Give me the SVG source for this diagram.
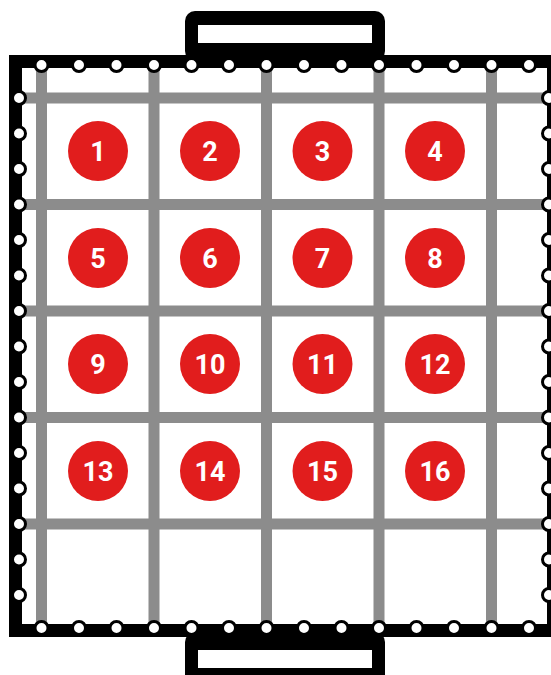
<svg xmlns="http://www.w3.org/2000/svg" width="551" height="675" viewBox="0 0 551 675">
<style>
.g{stroke:#8c8c8c;stroke-width:11;fill:none}
.h{fill:#fff;stroke:#000;stroke-width:3}
.n{fill:#e11d1d}
.t{fill:#fff;font-family:Roboto,"Liberation Sans",sans-serif;font-weight:bold;font-size:27px;text-anchor:middle}
</style>
<defs>
<circle id="hole" r="6.5" class="h"/>
</defs>
<rect width="551" height="675" fill="#fff"/>
<g id="grid">
<path class="g" d="M41.5 60V630M154 60V630M266.5 60V630M379 60V630M491.5 60V630M15 98H551M15 204.5H551M15 311H551M15 417.5H551M15 524H551"/>
</g>
<g id="frame">
<rect x="15.5" y="61.5" width="538" height="569" fill="none" stroke="#000" stroke-width="13"/>
</g>
<g id="handle-top">
<rect x="185" y="11" width="200" height="50" rx="10" fill="#000"/>
<rect x="198" y="25" width="174" height="18" fill="#fff"/>
</g>
<g id="handle-bottom">
<rect x="185" y="632" width="200" height="55" rx="10" fill="#000"/>
<rect x="198" y="650" width="174" height="18" fill="#fff"/>
</g>
<g id="holes">
<use href="#hole" x="41.5" y="65"/><use href="#hole" x="79" y="65"/><use href="#hole" x="116.5" y="65"/><use href="#hole" x="154" y="65"/><use href="#hole" x="191.5" y="65"/><use href="#hole" x="229" y="65"/><use href="#hole" x="266.5" y="65"/><use href="#hole" x="304" y="65"/><use href="#hole" x="341.5" y="65"/><use href="#hole" x="379" y="65"/><use href="#hole" x="416.5" y="65"/><use href="#hole" x="454" y="65"/><use href="#hole" x="491.5" y="65"/><use href="#hole" x="529" y="65"/>
<use href="#hole" x="41.5" y="628"/><use href="#hole" x="79" y="628"/><use href="#hole" x="116.5" y="628"/><use href="#hole" x="154" y="628"/><use href="#hole" x="191.5" y="628"/><use href="#hole" x="229" y="628"/><use href="#hole" x="266.5" y="628"/><use href="#hole" x="304" y="628"/><use href="#hole" x="341.5" y="628"/><use href="#hole" x="379" y="628"/><use href="#hole" x="416.5" y="628"/><use href="#hole" x="454" y="628"/><use href="#hole" x="491.5" y="628"/><use href="#hole" x="529" y="628"/>
<use href="#hole" x="19" y="98"/><use href="#hole" x="19" y="133.5"/><use href="#hole" x="19" y="169"/><use href="#hole" x="19" y="204.5"/><use href="#hole" x="19" y="240"/><use href="#hole" x="19" y="275.5"/><use href="#hole" x="19" y="311"/><use href="#hole" x="19" y="346.5"/><use href="#hole" x="19" y="382"/><use href="#hole" x="19" y="417.5"/><use href="#hole" x="19" y="453"/><use href="#hole" x="19" y="488.5"/><use href="#hole" x="19" y="524"/><use href="#hole" x="19" y="559.5"/><use href="#hole" x="19" y="595"/>
<use href="#hole" x="549" y="98"/><use href="#hole" x="549" y="133.5"/><use href="#hole" x="549" y="169"/><use href="#hole" x="549" y="204.5"/><use href="#hole" x="549" y="240"/><use href="#hole" x="549" y="275.5"/><use href="#hole" x="549" y="311"/><use href="#hole" x="549" y="346.5"/><use href="#hole" x="549" y="382"/><use href="#hole" x="549" y="417.5"/><use href="#hole" x="549" y="453"/><use href="#hole" x="549" y="488.5"/><use href="#hole" x="549" y="524"/><use href="#hole" x="549" y="559.5"/><use href="#hole" x="549" y="595"/>
</g>
<g id="n1"><circle class="n" cx="98" cy="151" r="30"/><text class="t" x="98" y="161">1</text></g>
<g id="n2"><circle class="n" cx="210" cy="151" r="30"/><text class="t" x="210" y="161">2</text></g>
<g id="n3"><circle class="n" cx="322.5" cy="151" r="30"/><text class="t" x="322.5" y="161">3</text></g>
<g id="n4"><circle class="n" cx="435" cy="151" r="30"/><text class="t" x="435" y="161">4</text></g>
<g id="n5"><circle class="n" cx="98" cy="258" r="30"/><text class="t" x="98" y="268">5</text></g>
<g id="n6"><circle class="n" cx="210" cy="258" r="30"/><text class="t" x="210" y="268">6</text></g>
<g id="n7"><circle class="n" cx="322.5" cy="258" r="30"/><text class="t" x="322.5" y="268">7</text></g>
<g id="n8"><circle class="n" cx="435" cy="258" r="30"/><text class="t" x="435" y="268">8</text></g>
<g id="n9"><circle class="n" cx="98" cy="364" r="30"/><text class="t" x="98" y="374">9</text></g>
<g id="n10"><circle class="n" cx="210" cy="364" r="30"/><text class="t" x="210" y="374">10</text></g>
<g id="n11"><circle class="n" cx="322.5" cy="364" r="30"/><text class="t" x="322.5" y="374">11</text></g>
<g id="n12"><circle class="n" cx="435" cy="364" r="30"/><text class="t" x="435" y="374">12</text></g>
<g id="n13"><circle class="n" cx="98" cy="471" r="30"/><text class="t" x="98" y="481">13</text></g>
<g id="n14"><circle class="n" cx="210" cy="471" r="30"/><text class="t" x="210" y="481">14</text></g>
<g id="n15"><circle class="n" cx="322.5" cy="471" r="30"/><text class="t" x="322.5" y="481">15</text></g>
<g id="n16"><circle class="n" cx="435" cy="471" r="30"/><text class="t" x="435" y="481">16</text></g>
</svg>
